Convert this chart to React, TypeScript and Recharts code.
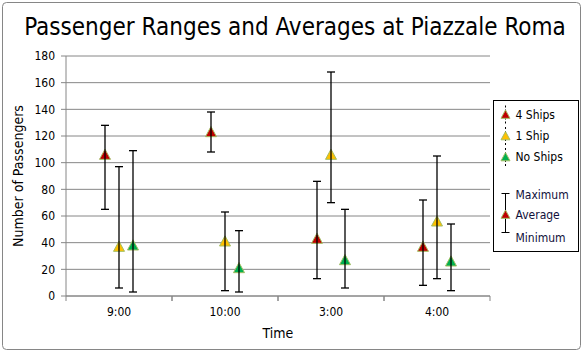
import React from "react";
import { Bar, CartesianGrid, ComposedChart, ErrorBar, XAxis, YAxis } from "recharts";

const times = ["9:00", "10:00", "3:00", "4:00"];

const fourShipsAvg = [106, 123, 43, 37];
const fourShipsMin = [65, 108, 13, 8];
const fourShipsMax = [128, 138, 86, 72];

const oneShipAvg = [37, 41, 106, 56];
const oneShipMin = [6, 4, 70, 13];
const oneShipMax = [97, 63, 168, 105];

const noShipsAvg = [38, 21, 27, 26];
const noShipsMin = [3, 3, 6, 4];
const noShipsMax = [109, 49, 65, 54];

const yTicks = [0, 20, 40, 60, 80, 100, 120, 140, 160, 180];

const series = [
  { key: "four", name: "4 Ships", color: "#C00000", avg: fourShipsAvg, min: fourShipsMin, max: fourShipsMax },
  { key: "one", name: "1 Ship", color: "#FFC000", avg: oneShipAvg, min: oneShipMin, max: oneShipMax },
  { key: "none", name: "No Ships", color: "#00B050", avg: noShipsAvg, min: noShipsMin, max: noShipsMax },
];

const data = times.map((time, i) => {
  const row: Record<string, unknown> = { time };
  series.forEach((s) => {
    row[s.key] = s.avg[i];
    row[s.key + "Err"] = [s.avg[i] - s.min[i], s.max[i] - s.avg[i]];
  });
  return row;
});

const FONT = "'DejaVu Sans Condensed', 'Liberation Sans', sans-serif";
const GRID = "#868686";
const MARKER_EDGE = "#A3BE62";

const triangle = (cx: number, cy: number, r: number) =>
  `M${cx},${cy - r}L${cx + r},${cy + r * 0.85}L${cx - r},${cy + r * 0.85}Z`;

const markerShape = (color: string) => (props: any) => {
  const { x, y, width } = props;
  return <path d={triangle(x + width / 2, y, 5.5)} fill={color} stroke={MARKER_EDGE} strokeWidth={1} />;
};

const emptyShape = () => <g />;

function TimeTick(props: any) {
  const { x, y, payload } = props;
  const half = payload?.offset ?? 53;
  return (
    <g>
      <line x1={x - half} x2={x - half} y1={y} y2={y + 5} stroke={GRID} />
      <line x1={x + half} x2={x + half} y1={y} y2={y + 5} stroke={GRID} />
      <text x={x} y={y + 20} textAnchor="middle" fontSize={12} fill="#000" fontFamily={FONT}>
        {payload.value}
      </text>
    </g>
  );
}

function LegendBox() {
  const rows = [14, 35.5, 56.5];
  return (
    <g transform="translate(493.5,100.5)" fontFamily={FONT} fontSize={12}>
      <rect x={0} y={0} width={85} height={151} fill="#fff" stroke="#000" />
      {series.map((s, i) => (
        <g key={s.key}>
          <line x1={12} x2={12} y1={rows[i] - 9} y2={rows[i] + 9} stroke="#000" strokeDasharray="2 2" />
          <path d={triangle(12, rows[i], 4.5)} fill={s.color} stroke={MARKER_EDGE} />
          <text x={22} y={rows[i] + 4}>{s.name}</text>
        </g>
      ))}
      <line x1={12} x2={12} y1={93} y2={132} stroke="#000" />
      <line x1={8} x2={16} y1={93} y2={93} stroke="#000" />
      <line x1={8} x2={16} y1={132} y2={132} stroke="#000" />
      <path d={triangle(12, 114, 4.5)} fill="#C00000" stroke={MARKER_EDGE} />
      <text x={22} y={98} fill="#10103a">Maximum</text>
      <text x={22} y={118} fill="#10103a">Average</text>
      <text x={22} y={141} fill="#10103a">Minimum</text>
    </g>
  );
}

export default function App() {
  return (
    <div style={{ position: "absolute", left: 0, top: 0, width: 584, height: 353, background: "#fff" }}>
      <ComposedChart
        width={584}
        height={353}
        data={data}
        barSize={14}
        barGap={0}
        margin={{ top: 56, right: 94, bottom: 0, left: 0 }}
      >
        <CartesianGrid horizontal vertical={false} stroke={GRID} />
        <XAxis
          dataKey="time"
          height={57}
          stroke={GRID}
          tickLine={false}
          tickSize={0}
          tickMargin={0}
          tick={<TimeTick />}
          interval={0}
          label={{ value: "Time", position: "insideBottom", offset: 15, fontSize: 14, fill: "#000", fontFamily: FONT }}
        />
        <XAxis xAxisId="mk" dataKey="time" hide />
        <YAxis
          domain={[0, 180]}
          ticks={yTicks}
          interval={0}
          width={66}
          stroke={GRID}
          tickSize={5}
          tickMargin={6}
          tick={{ fill: "#000", fontSize: 12, fontFamily: FONT }}
          label={{ value: "Number of Passengers", angle: -90, position: "center", dx: -15, fontSize: 14, fill: "#000", fontFamily: FONT }}
        />
        {series.map((s) => (
          <Bar key={s.key + "-err"} dataKey={s.key} name={s.name} shape={emptyShape} isAnimationActive={false}>
            <ErrorBar dataKey={s.key + "Err"} direction="y" width={4} stroke="#000" strokeWidth={1.3} />
          </Bar>
        ))}
        {series.map((s) => (
          <Bar
            key={s.key + "-mk"}
            xAxisId="mk"
            dataKey={s.key}
            name={s.name}
            shape={markerShape(s.color)}
            isAnimationActive={false}
          />
        ))}
      </ComposedChart>
      <svg
        width={584}
        height={353}
        style={{ position: "absolute", left: 0, top: 0, pointerEvents: "none" }}
      >
        <rect x={2.5} y={2.5} width={578} height={347} rx={4} fill="none" stroke={GRID} />
        <text x={295} y={35} textAnchor="middle" fontSize={24} fontFamily={FONT} fill="#000">
          Passenger Ranges and Averages at Piazzale Roma
        </text>
        <LegendBox />
      </svg>
    </div>
  );
}
